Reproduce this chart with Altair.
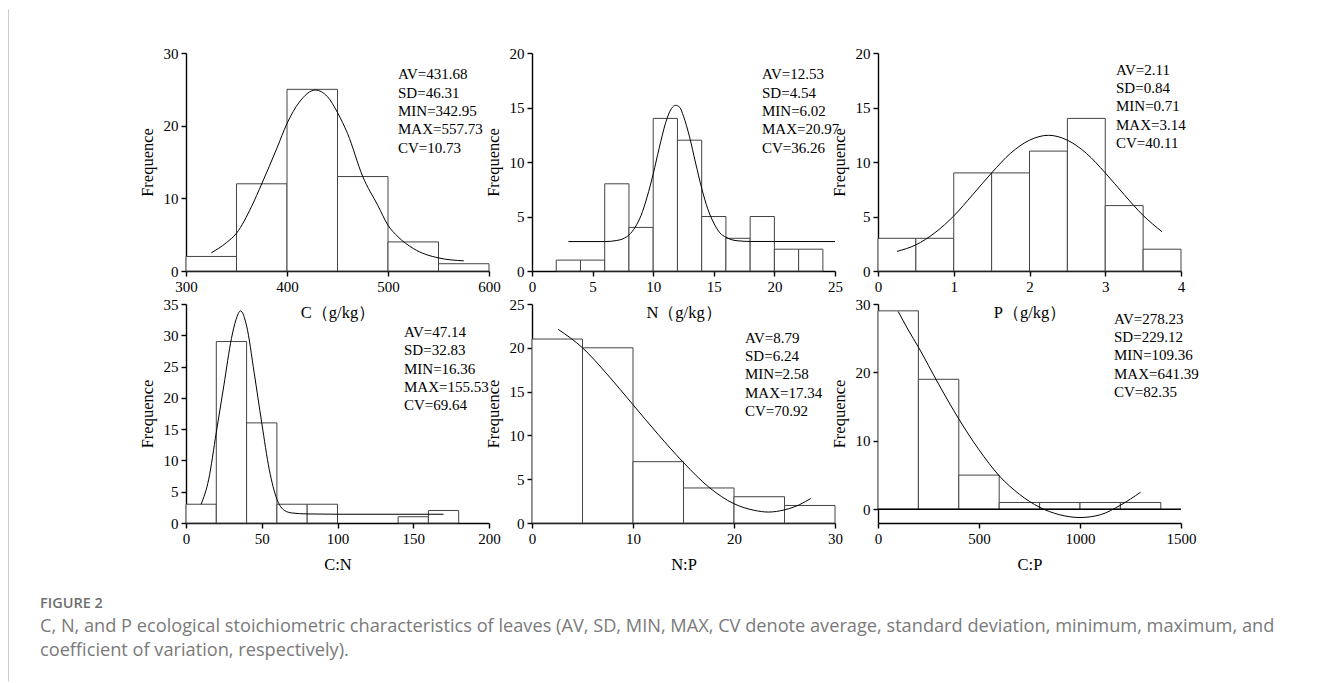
import altair as alt
import pandas as pd

# ---------------- data ----------------
# Panel C (g/kg)
C_LO = [300, 350, 400, 450, 500, 550]
C_HI = [350, 400, 450, 500, 550, 600]
C_CNT = [2, 12, 25, 13, 4, 1]
C_CX = [325, 340, 350, 365, 375, 390, 400, 412, 428, 440, 450, 460, 475, 490, 500, 510, 525, 550, 575]
C_CY = [2.5, 3.9, 5.2, 8.9, 12.0, 16.9, 20.3, 23.2, 24.9, 24.0, 21.8, 18.9, 13.0, 9.0, 6.3, 4.7, 3.1, 1.8, 1.4]
C_STATS = ["AV=431.68", "SD=46.31", "MIN=342.95", "MAX=557.73", "CV=10.73"]

# Panel N (g/kg)
N_LO = [2, 4, 6, 8, 10, 12, 14, 16, 18, 20, 22]
N_HI = [4, 6, 8, 10, 12, 14, 16, 18, 20, 22, 24]
N_CNT = [1, 1, 8, 4, 14, 12, 5, 3, 5, 2, 2]
N_CX = [3, 6, 7, 7.5, 8, 8.5, 9, 9.5, 10, 10.5, 11, 11.5, 11.85, 12.2, 12.5, 13, 13.5, 14, 14.5, 15, 15.5, 16, 16.5, 17, 18, 25]
N_CY = [2.7, 2.7, 2.8, 2.95, 3.3, 4.0, 5.1, 6.8, 8.9, 11.3, 13.5, 14.9, 15.2, 15.0, 14.2, 12.3, 9.9, 7.6, 5.7, 4.4, 3.5, 3.1, 2.86, 2.77, 2.71, 2.7]
N_STATS = ["AV=12.53", "SD=4.54", "MIN=6.02", "MAX=20.97", "CV=36.26"]

# Panel P (g/kg)
P_LO = [0, 0.5, 1, 1.5, 2, 2.5, 3, 3.5]
P_HI = [0.5, 1, 1.5, 2, 2.5, 3, 3.5, 4]
P_CNT = [3, 3, 9, 9, 11, 14, 6, 2]
P_CX = [0.25, 0.5, 0.75, 1, 1.25, 1.5, 1.75, 2, 2.25, 2.5, 2.75, 3, 3.25, 3.5, 3.75]
P_CY = [1.8, 2.4, 3.5, 5.05, 7.0, 9.0, 10.8, 12.0, 12.45, 12.0, 10.8, 9.0, 7.0, 5.1, 3.6]
P_STATS = ["AV=2.11", "SD=0.84", "MIN=0.71", "MAX=3.14", "CV=40.11"]

# Panel C:N
CN_LO = [0, 20, 40, 60, 80, 140, 160]
CN_HI = [20, 40, 60, 80, 100, 160, 180]
CN_CNT = [3, 29, 16, 3, 3, 1, 2]
CN_CX = [10, 15, 20, 25, 30, 33, 36, 40, 45, 50, 55, 60, 65, 70, 80, 100, 170]
CN_CY = [3.0, 7.0, 14.5, 22.0, 29.5, 32.5, 33.9, 31.5, 24.0, 16.0, 8.5, 3.8, 2.0, 1.6, 1.45, 1.4, 1.4]
CN_STATS = ["AV=47.14", "SD=32.83", "MIN=16.36", "MAX=155.53", "CV=69.64"]

# Panel N:P
NP_LO = [0, 5, 10, 15, 20, 25]
NP_HI = [5, 10, 15, 20, 25, 30]
NP_CNT = [21, 20, 7, 4, 3, 2]
NP_CX = [2.6, 5, 7.5, 10, 12.5, 15, 17.5, 20, 22, 23.4, 25, 26.5, 27.6]
NP_CY = [22.1, 20.0, 16.9, 13.5, 10.1, 6.9, 4.1, 2.2, 1.45, 1.25, 1.5, 2.1, 2.8]
NP_STATS = ["AV=8.79", "SD=6.24", "MIN=2.58", "MAX=17.34", "CV=70.92"]

# Panel C:P
CP_LO = [0, 200, 400, 600, 800, 1000, 1200]
CP_HI = [200, 400, 600, 800, 1000, 1200, 1400]
CP_CNT = [29, 19, 5, 1, 1, 1, 1]
CP_CX = [100, 150, 200, 300, 400, 500, 600, 700, 800, 900, 1000, 1100, 1200, 1300]
CP_CY = [28.9, 26.2, 23.7, 18.3, 13.2, 8.7, 4.9, 2.2, 0.3, -0.8, -1.2, -0.8, 0.6, 2.5]
CP_STATS = ["AV=278.23", "SD=229.12", "MIN=109.36", "MAX=641.39", "CV=82.35"]

CAPTION_LABEL = ["FIGURE 2"]
CAPTION_LINES = [
    "C, N, and P ecological stoichiometric characteristics of leaves (AV, SD, MIN, MAX, CV denote average, standard deviation, minimum, maximum, and",
    "coefficient of variation, respectively).",
]

SERIF = "Liberation Serif"
W = 303


def panel(lo, hi, cnt, cx, cy, stats, xdom, xticks, xtitle, ydom, yticks, h,
          tx, ty, zero_line=False, extra=None):
    bars_df = pd.DataFrame({"lo": lo, "hi": hi, "cnt": cnt})
    curve_df = pd.DataFrame({"lo": cx, "cnt": cy})
    stats_df = pd.DataFrame({"t": stats, "i": list(range(len(stats)))})
    xs = alt.Scale(domain=xdom, nice=False, zero=False)
    ys = alt.Scale(domain=ydom, nice=False, zero=False)
    xax = alt.Axis(values=xticks, title=xtitle, format="d")
    yax = alt.Axis(values=yticks, title="Frequence", format="d")
    bars = alt.Chart(bars_df).mark_rect(fill="white", stroke="#444444", strokeWidth=1).encode(
        x=alt.X("lo:Q", scale=xs, axis=xax),
        x2="hi:Q",
        y=alt.Y("cnt:Q", scale=ys, axis=yax),
        y2=alt.datum(0),
    )
    curve = alt.Chart(curve_df).mark_line(color="black", strokeWidth=1, interpolate="monotone").encode(
        x=alt.X("lo:Q", scale=xs, axis=xax),
        y=alt.Y("cnt:Q", scale=ys, axis=yax),
    )
    layers = [bars]
    if zero_line:
        zl = alt.Chart(pd.DataFrame({"z": [0]})).mark_rule(color="black", strokeWidth=1.5).encode(
            y=alt.datum(0), x=alt.value(0), x2=alt.value(W)
        )
        layers.append(zl)
    layers.append(curve)
    txt = alt.Chart(stats_df).transform_calculate(
        yy=f"{ty} + datum.i * 18.35"
    ).mark_text(align="left", baseline="middle", font=SERIF, fontSize=15, color="black").encode(
        x=alt.value(tx), y=alt.Y("yy:Q", scale=None), text="t:N"
    )
    layers.append(txt)
    if extra:
        layers.extend(extra)
    return alt.layer(*layers).properties(width=W, height=h)


# caption / frame pieces placed relative to the first panel's plot area
border = alt.Chart(pd.DataFrame({"a": [0]})).mark_rule(color="#cccccc", strokeWidth=1).encode(
    x=alt.value(-177.5), y=alt.value(-43.7), y2=alt.value(628.3)
)
fig_lab = alt.Chart(pd.DataFrame({"t": CAPTION_LABEL})).mark_text(
    align="left", baseline="middle", font="Open Sans", fontSize=14.5, fontWeight=600, color="#6f6f6f"
).encode(x=alt.value(-146), y=alt.value(551), text="t:N")
cap_df = pd.DataFrame({"t": CAPTION_LINES, "i": [0, 1]})
cap = alt.Chart(cap_df).transform_calculate(yy="574.3 + datum.i * 24").mark_text(
    align="left", baseline="middle", font="Open Sans", fontSize=18.2, color="#7a7a7a"
).encode(x=alt.value(-146), y=alt.Y("yy:Q", scale=None), text="t:N")

p1 = panel(C_LO, C_HI, C_CNT, C_CX, C_CY, C_STATS, [300, 600], [300, 400, 500, 600], "C（g/kg）",
           [0, 30], [0, 10, 20, 30], 218, 212, 21.3, extra=[border, fig_lab, cap])
p2 = panel(N_LO, N_HI, N_CNT, N_CX, N_CY, N_STATS, [0, 25], [0, 5, 10, 15, 20, 25], "N（g/kg）",
           [0, 20], [0, 5, 10, 15, 20], 218, 230, 21.3)
p3 = panel(P_LO, P_HI, P_CNT, P_CX, P_CY, P_STATS, [0, 4], [0, 1, 2, 3, 4], "P（g/kg）",
           [0, 20], [0, 5, 10, 15, 20], 218, 238, 16.6)
p4 = panel(CN_LO, CN_HI, CN_CNT, CN_CX, CN_CY, CN_STATS, [0, 200], [0, 50, 100, 150, 200], "C:N",
           [0, 35], [0, 5, 10, 15, 20, 25, 30, 35], 219, 218, 28)
p5 = panel(NP_LO, NP_HI, NP_CNT, NP_CX, NP_CY, NP_STATS, [0, 30], [0, 10, 20, 30], "N:P",
           [0, 25], [0, 5, 10, 15, 20, 25], 219, 213, 33.7)
p6 = panel(CP_LO, CP_HI, CP_CNT, CP_CX, CP_CY, CP_STATS, [0, 1500], [0, 500, 1000, 1500], "C:P",
           [-2, 30], [0, 10, 20, 30], 219, 236, 14.7, zero_line=True)

chart = alt.concat(p1, p2, p3, p4, p5, p6, columns=3, spacing=alt.RowColnumber(row=33, column=43),
                   bounds="flush").properties(padding=0).configure_view(strokeWidth=0).configure_axis(
    grid=False,
    domainColor="black", domainWidth=1.4,
    tickColor="black", tickWidth=1.4, tickSize=5,
    labelFont=SERIF, labelFontSize=15, labelColor="black", labelPadding=3,
    labelFlush=False, labelOverlap=False,
    titleFont=SERIF, titleFontSize=16.5, titleFontWeight="normal", titleColor="black", titlePadding=8,
).configure_axisX(titlePadding=10)

chart.save("out.html", embed_options={"renderer": "svg", "actions": False})
